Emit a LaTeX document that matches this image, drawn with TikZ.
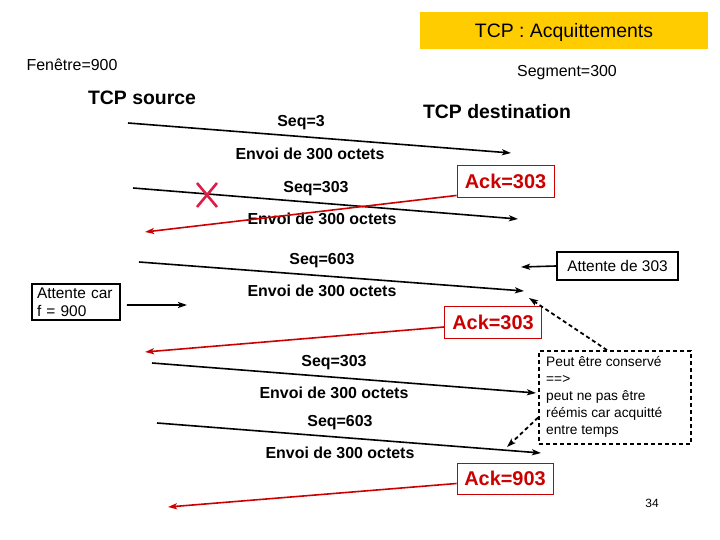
\documentclass[tikz,border=0pt]{standalone}
\usepackage{fontspec}
\setmainfont{Liberation Sans}
\usetikzlibrary{arrows.meta}
\definecolor{ttl}{HTML}{FFCC00}
\definecolor{ackred}{HTML}{CC0000}
\definecolor{xred}{HTML}{DC1E46}
\tikzset{
  tip/.style={-{Stealth[length=9bp,width=6bp,inset=2bp]}},
  msg/.style={line width=1.6bp, tip},
  ackline/.style={line width=1.6bp, draw=ackred, -{Stealth[length=9bp,width=6bp,inset=2bp,ackred]}},
  lbl/.style={font=\fontsize{16}{19}\selectfont\bfseries, inner sep=0, yshift=-2bp},
  hdr/.style={font=\fontsize{19.5}{23}\selectfont\bfseries, inner sep=0},
  plain/.style={font=\fontsize{16}{19}\selectfont, inner sep=0},
  ackbox/.style={draw=ackred, line width=0.9bp, text=ackred, font=\fontsize{20}{24}\selectfont\bfseries, inner sep=0, minimum height=32bp, minimum width=97bp},
  infobox/.style={draw, line width=1.5bp, inner sep=0, font=\fontsize{15.5}{18}\selectfont},
  dsh/.style={line width=1.8bp, dash pattern=on 4bp off 3bp, tip},
}
\begin{document}
\begin{tikzpicture}[x=1bp,y=-1bp]
\useasboundingbox (0,0) rectangle (720,540);

% title
\node[fill=ttl, minimum width=288bp, minimum height=37bp, inner sep=0] (title) at (564,30.5) {};
\node[font=\fontsize{19.5}{23}\selectfont, inner sep=0] (titletxt) at (564,32) {TCP : Acquittements};

\node[plain] (fen) at (72,65) {Fenêtre=900};
\node[plain] (seg) at (567,73) {Segment=300};
\node[hdr] (src) at (142,98) {TCP source};
\node[hdr] (dst) at (497,112) {TCP destination};

% message 1
\coordinate (m1a) at (128,123); \coordinate (m1b) at (511,153);
\draw[msg] (m1a) -- (m1b);
\node[lbl] (s1) at (301,121) {Seq=3};
\node[lbl] (e1) at (310,152) {Envoi de 300 octets};

% message 2
\coordinate (m2a) at (133,188); \coordinate (m2b) at (518,219);
\draw[msg] (m2a) -- (m2b);
\node[lbl] (s2) at (316,187) {Seq=303};
\node[lbl] (e2) at (322,217) {Envoi de 300 octets};

% X
\coordinate (xc) at (207,195);
\draw[xred, line width=2.6bp] ([shift={(-10,-12)}]xc) -- ([shift={(10,12)}]xc)
      ([shift={(-10,12)}]xc) -- ([shift={(10,-12)}]xc);

% ack 1
\node[ackbox] (ack1) at (505.5,181) {Ack=303};
\coordinate (r1) at (145,232);
\draw[ackline] ([yshift=2bp]ack1.south west) -- (r1);

% message 3
\coordinate (m3a) at (139,262); \coordinate (m3b) at (524,291);
\draw[msg] (m3a) -- (m3b);
\node[lbl] (s3) at (322,259) {Seq=603};
\node[lbl] (e3) at (322,289) {Envoi de 300 octets};

% attente de 303
\node[infobox, minimum width=121bp, minimum height=28bp] (att) at (617.5,266) {Attente de 303};
\coordinate (attp) at (521,267);
\draw[msg] (att.west) -- (attp);

% attente car
\node[infobox, minimum width=88bp, minimum height=36bp, align=left, text width=78bp, inner xsep=5bp,
      font=\fontsize{15.5}{18.5}\selectfont] (car) at (76,302) {Attente car\\f = 900};
\coordinate (carp) at (187,305);
\draw[msg] ([xshift=6bp,yshift=-3bp]car.east) -- (carp);

% ack 2
\node[ackbox] (ack2) at (493,322) {Ack=303};
\coordinate (r2) at (145,352);
\draw[ackline] ([yshift=-5bp]ack2.west) -- (r2);

% note
\node[draw, line width=1.8bp, dash pattern=on 4bp off 3bp, minimum width=152bp, minimum height=93bp,
      inner sep=0] (note) at (615,397.5) {};
\node[anchor=north west, align=left, inner sep=0, font=\fontsize{13.8}{17}\selectfont]
      (notetxt) at (546,356) {Peut être conservé\\==>\\peut ne pas être\\réémis car acquitté\\entre temps};
\coordinate (d1) at (529,298);
\draw[dsh] ([xshift=-8bp]note.north) -- (d1);
\coordinate (d2) at (507,447);
\draw[dsh] ([yshift=-20bp]note.west) -- (d2);

% message 4
\coordinate (m4a) at (152,363); \coordinate (m4b) at (536,393);
\draw[msg] (m4a) -- (m4b);
\node[lbl] (s4) at (334,361) {Seq=303};
\node[lbl] (e4) at (334,391) {Envoi de 300 octets};

% message 5
\coordinate (m5a) at (157,423); \coordinate (m5b) at (541,453);
\draw[msg] (m5a) -- (m5b);
\node[lbl] (s5) at (340,421) {Seq=603};
\node[lbl] (e5) at (340,451) {Envoi de 300 octets};

% ack 3
\node[ackbox, minimum width=96bp, minimum height=31bp] (ack3) at (505,478.5) {Ack=903};
\coordinate (r3) at (168,507);
\draw[ackline] ([yshift=-5bp]ack3.west) -- (r3);

\node[font=\fontsize{12}{14}\selectfont, inner sep=0] (pg) at (652,503) {34};
\end{tikzpicture}
\end{document}
